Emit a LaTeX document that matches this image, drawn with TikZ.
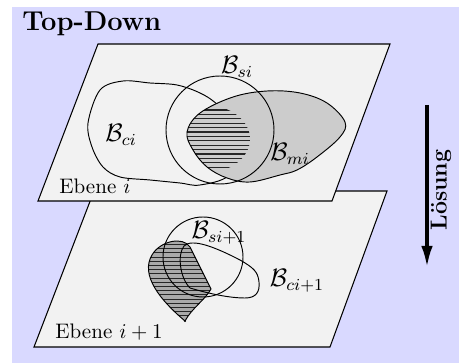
\documentclass[tikz,border=0pt]{standalone}
\usetikzlibrary{arrows.meta}
\definecolor{bgblue}{RGB}{217,217,255}
\definecolor{planegray}{RGB}{242,242,242}
\definecolor{migray}{RGB}{204,204,204}
\definecolor{dropgray}{RGB}{170,170,170}
\tikzset{
  plane/.style={fill=planegray,draw=black,line width=0.5pt},
  outl/.style={draw=black,line width=0.45pt},
  hatchline/.style={draw=black!85,line width=0.55pt},
  lbl/.style={inner sep=0pt},
  mlbl/.style={inner sep=0pt,font=\large},
}
\begin{document}
\begin{tikzpicture}[x=0.476pt,y=-0.476pt]
\useasboundingbox (0,0) rectangle (459,363);
\fill[bgblue] (12,7) rectangle (459,363);
\node[lbl,anchor=base west] (title) at (22,31) {\fontsize{13}{16}\selectfont\bfseries Top-Down};

% lower plane
\path[plane] (94,191) -- (387,191) -- (330,347) -- (34,347) -- cycle;
% drop-shaped hatched region
\path[fill=dropgray] (185,321) .. controls (160,300) and (140,275) .. (152,255)
  .. controls (160,241) and (183,236) .. (190,247) -- (211,289)
  .. controls (205,300) and (192,308) .. (185,321) -- cycle;
\begin{scope}
  \clip (185,321) .. controls (160,300) and (140,275) .. (152,255)
  .. controls (160,241) and (183,236) .. (190,247) -- (211,289)
  .. controls (205,300) and (192,308) .. (185,321) -- cycle;
  \foreach \yy in {244.5,248.7,...,322} {\draw[hatchline] (140,\yy) -- (220,\yy);}
\end{scope}
\draw[outl] (185,321) .. controls (160,300) and (140,275) .. (152,255)
  .. controls (160,241) and (183,236) .. (190,247) -- (211,289)
  .. controls (205,300) and (192,308) .. (185,321) -- cycle;
\fill (185,321) circle (1.2);
\coordinate (csl) at (203,257);
\draw[outl] (csl) circle (40);
\draw[outl] (190,288) .. controls (180,278) and (177,255) .. (184,246)
  .. controls (192,238) and (215,247) .. (240,260)
  .. controls (254,268) and (258,272) .. (259,282)
  .. controls (260,292) and (256,298) .. (245,298)
  .. controls (230,298) and (210,294) .. (190,288) -- cycle;
\node[mlbl] (bsi1) at (219,233) {$\mathcal{B}_{si+1}$};
\node[mlbl] (bci1) at (297,281) {$\mathcal{B}_{ci+1}$};
\node[lbl,anchor=base west] (eb2) at (55,339) {Ebene $i+1$};

% upper plane
\path[plane] (98,44) -- (390,44) -- (332,201) -- (38,201) -- cycle;
% B_ci
\draw[outl] plot[smooth cycle,tension=0.55] coordinates {
  (218,105) (200,93) (177,85) (150,83) (123,81) (100,90) (88,123) (92,147)
  (103,167) (120,177) (150,180) (180,183) (200,185) (230,175) (255,140)};
% B_mi
\def\mipath{plot[smooth cycle,tension=0.6] coordinates {
  (187,132) (200,113) (233,97) (267,91) (300,93) (327,103) (345,122) (340,137)
  (317,157) (297,170) (280,175) (250,182) (227,178) (207,167) (193,150)}}
\path[fill=migray] \mipath;
\begin{scope}
  \clip \mipath;
  \clip (205,139) ellipse (45 and 34);
  \foreach \yy in {110,114.4,...,168} {\draw[hatchline] (180,\yy) -- (260,\yy);}
\end{scope}
\draw[outl] \mipath;
\coordinate (csu) at (220,130);
\draw[outl] (csu) circle (54);
\node[mlbl] (bsi) at (237,67) {$\mathcal{B}_{si}$};
\node[mlbl] (bci) at (121,135) {$\mathcal{B}_{ci}$};
\node[mlbl] (bmi) at (290,154) {$\mathcal{B}_{mi}$};
\node[lbl,anchor=base west] (eb1) at (59,194) {Ebene $i$};

% arrow
\coordinate (atop) at (427,105);
\coordinate (abot) at (427,267);
\draw[line width=1.5pt,-{Latex[length=10pt,width=5.5pt]}] (atop) -- (abot);
\node[lbl,rotate=90] (loes) at (441,190) {\fontsize{11}{13}\selectfont\bfseries Lösung};
\end{tikzpicture}
\end{document}
